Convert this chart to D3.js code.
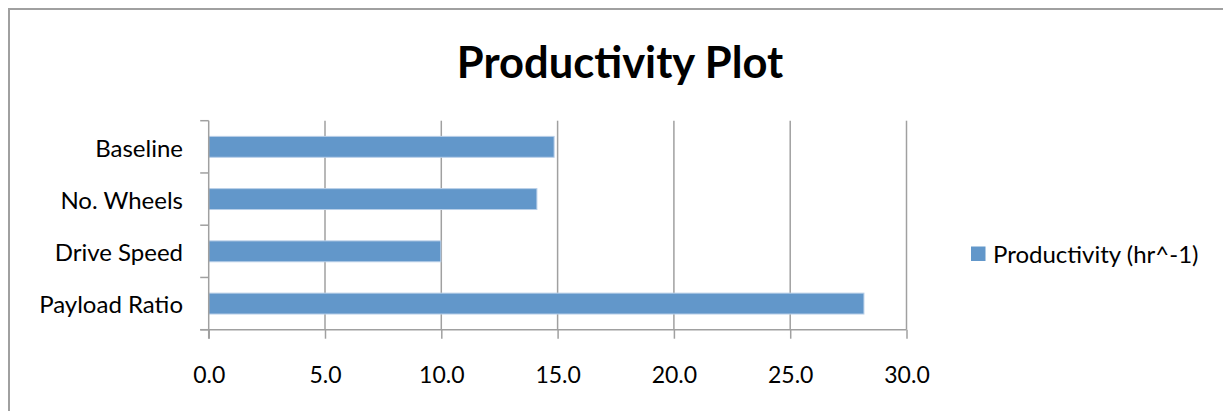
<!DOCTYPE html>
<html>
<head>
<meta charset="utf-8">
<script src="https://cdn.jsdelivr.net/npm/d3@7"></script>
<style>
  html, body { margin: 0; padding: 0; background: #fff; }
  svg { display: block; }
  text { font-family: Lato, "Open Sans", sans-serif; fill: #000; }
</style>
</head>
<body>
<svg id="chart" width="1223" height="411"></svg>
<script>
// Chart data
const categories = ["Baseline", "No. Wheels", "Drive Speed", "Payload Ratio"];
const productivity = [14.85, 14.11, 9.98, 28.17];
const xTicks = [0, 5, 10, 15, 20, 25, 30];
const seriesName = "Productivity (hr^-1)";
const chartTitle = "Productivity Plot";

const svg = d3.select("#chart");
const W = 1223, H = 411;
const gridColor = "#a0a0a0";
const barColor = "#6297ca";

// Outer chart frame
svg.append("rect")
  .attr("x", 9).attr("y", 9)
  .attr("width", W + 20).attr("height", H + 20)
  .attr("fill", "#fff")
  .attr("stroke", gridColor).attr("stroke-width", 2);

// Plot area
const plot = { left: 208.7, right: 906.5, top: 120.7, bottom: 329.7 };

const x = d3.scaleLinear().domain([0, 30]).range([plot.left, plot.right]);
const y = d3.scaleBand().domain(categories)
  .range([plot.top, plot.bottom])
  .paddingInner(0.6).paddingOuter(0.3);

// Title
svg.append("text")
  .attr("x", 620).attr("y", 78)
  .attr("text-anchor", "middle")
  .attr("font-size", 43.5).attr("font-weight", "bold")
  .text(chartTitle);

// Vertical gridlines
svg.append("g").selectAll("line")
  .data(xTicks.slice(1))
  .join("line")
  .attr("x1", d => x(d)).attr("x2", d => x(d))
  .attr("y1", plot.top).attr("y2", plot.bottom)
  .attr("stroke", gridColor).attr("stroke-width", 1.5);

// Bars
svg.append("g").selectAll("rect")
  .data(categories.map((c, i) => ({ c, v: productivity[i] })))
  .join("rect")
  .attr("x", x(0))
  .attr("y", d => y(d.c))
  .attr("width", d => x(d.v) - x(0))
  .attr("height", y.bandwidth())
  .attr("fill", barColor)
  .attr("stroke", "#b9cfe8").attr("stroke-width", 1);

// X axis (bottom)
const xAxis = d3.axisBottom(x)
  .tickValues(xTicks)
  .tickFormat(d3.format(".1f"))
  .tickSize(9)
  .tickPadding(28);
const gx = svg.append("g")
  .attr("transform", `translate(0,${plot.bottom})`)
  .call(xAxis);
gx.select(".domain").remove();
gx.append("line")
  .attr("x1", plot.left - 8.5).attr("x2", plot.right)
  .attr("stroke", gridColor).attr("stroke-width", 1.5);
gx.selectAll(".tick line").attr("stroke", gridColor).attr("stroke-width", 1.5);
gx.selectAll(".tick text")
  .attr("font-size", 23)
  .attr("font-family", "Lato, 'Open Sans', sans-serif")
  .attr("fill", "#000");

// Y axis (left): ticks on band boundaries, labels at band centres
const boundaries = d3.range(categories.length + 1).map(i => plot.top + i * y.step());
const gy = svg.append("g");
gy.append("line")
  .attr("x1", plot.left).attr("x2", plot.left)
  .attr("y1", plot.top).attr("y2", plot.bottom + 9)
  .attr("stroke", gridColor).attr("stroke-width", 1.5);
gy.selectAll("line.tk")
  .data(boundaries)
  .join("line").attr("class", "tk")
  .attr("x1", plot.left - 8.5).attr("x2", plot.left)
  .attr("y1", d => d).attr("y2", d => d)
  .attr("stroke", gridColor).attr("stroke-width", 1.5);
gy.selectAll("text")
  .data(categories)
  .join("text")
  .attr("x", 183)
  .attr("y", d => y(d) + y.bandwidth() / 2 + 1.5)
  .attr("dy", "0.35em")
  .attr("text-anchor", "end")
  .attr("font-size", 24)
  .text(d => d);

// Legend
const lg = svg.append("g").attr("transform", "translate(971,246.5)");
lg.append("rect").attr("width", 14.5).attr("height", 14.5).attr("fill", barColor);
lg.append("text")
  .attr("x", 22).attr("y", 8).attr("dy", "0.35em")
  .attr("font-size", 24)
  .text(seriesName);
</script>
</body>
</html>
